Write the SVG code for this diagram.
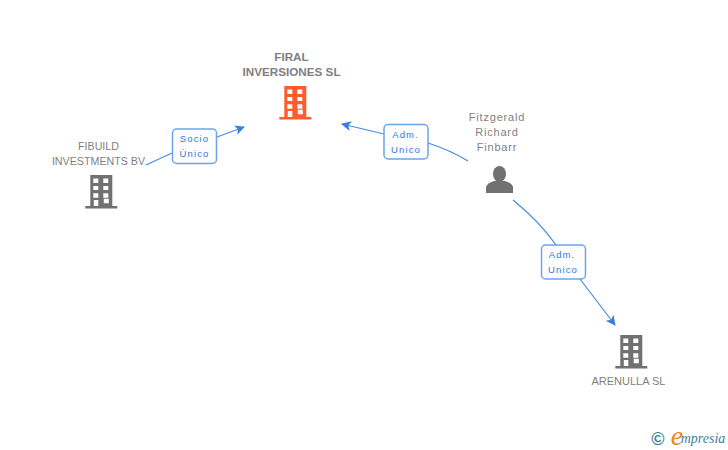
<svg xmlns="http://www.w3.org/2000/svg" width="728" height="450" viewBox="0 0 728 450">
<style>
text{font-family:"Liberation Sans",Arial,sans-serif;font-size:11px;fill:#7f7f7f;text-anchor:middle}
.b{font-weight:bold;font-size:11.700px}
.e{fill:#2f7be0;font-size:9.500px;letter-spacing:1.100px}
.box{fill:#fdfdfd;stroke:#6ea4ec;stroke-width:1.500}
.c{fill:none;stroke:#4a8ae3;stroke-width:1.200}
.w{fill:#fff}
</style>
<defs>
<marker id="a" markerWidth="12" markerHeight="12" refX="9" refY="5" orient="auto" markerUnits="userSpaceOnUse"><path d="M0 0L10 5L0 10L2.500 5Z" fill="#3b7fd9"/></marker>
<g id="bld">
<path d="M5 0H27V31H32V33.500H0V31H5Z"/>
<path class="w" d="M8 3.500h5v4.500H8zM18 3.500h5v4.500H18zM8 11h5v4H8zM18 11h5v4H18zM8 18.300h5v4.500H8zM18 18.300h5v4.500H18zM8.500 25h4.500V31H8.500zM18.500 23.800h5v4.500h-5z"/>
</g>
</defs>
<rect width="728" height="450" fill="#fff"/>
<g id="connectors">
<path class="c" d="M146 165L172 153M217 137L244 127" marker-end="url(#a)"/>
<path class="c" d="M468 161Q450 150 428 143M384 134L342 124" marker-end="url(#a)"/>
<path class="c" d="M513 200Q540 222 556 245M580 279L615 325" marker-end="url(#a)"/>
</g>
<g id="label-socio"><rect class="box" x="172.500" y="129" width="44" height="34.500" rx="4"/><text class="e" x="194.500" y="142">Socio</text><text class="e" x="194.500" y="157">Único</text></g>
<g id="label-adm1"><rect class="box" x="384" y="124.500" width="44" height="34.500" rx="4"/><text class="e" x="405.500" y="138">Adm.</text><text class="e" x="406" y="153">Unico</text></g>
<g id="label-adm2"><rect class="box" x="541.500" y="245" width="44" height="34" rx="4"/><text class="e" x="562" y="258">Adm.</text><text class="e" x="563" y="273">Unico</text></g>
<g id="firal"><text class="b" x="291.500" y="61">FIRAL</text><text class="b" x="291.500" y="76">INVERSIONES SL</text><use href="#bld" x="279.300" y="86" fill="#ff5c2e"/></g>
<g id="fibuild"><text x="98.500" y="150" style="font-size:10.700px">FIBUILD</text><text x="98.500" y="165" style="font-size:10.700px">INVESTMENTS BV</text><use href="#bld" x="85.300" y="175" fill="#717171"/></g>
<g id="fitzgerald"><g style="letter-spacing:.8px"><text x="497" y="121">Fitzgerald</text><text x="497" y="136">Richard</text><text x="497" y="151">Finbarr</text></g>
<ellipse cx="499.500" cy="174" rx="6.500" ry="8" fill="#717171"/><path d="M486 193V187Q487 183 494 181H505Q512 183 513 187V193Z" fill="#717171"/></g>
<g id="arenulla"><use href="#bld" x="615.300" y="335" fill="#717171"/><text x="628.500" y="385">ARENULLA SL</text></g>
<g id="logo"><text x="658" y="445" style="font-size:18px;font-weight:bold;fill:#3f8296">©</text><text x="677" y="445" style="font-family:'Liberation Serif',serif;font-style:italic;font-size:28px;fill:#f08519">e</text><text x="703" y="443" style="font-family:'Liberation Serif',serif;font-style:italic;font-size:14px;fill:#3f8296">mpresia</text></g>
</svg>
